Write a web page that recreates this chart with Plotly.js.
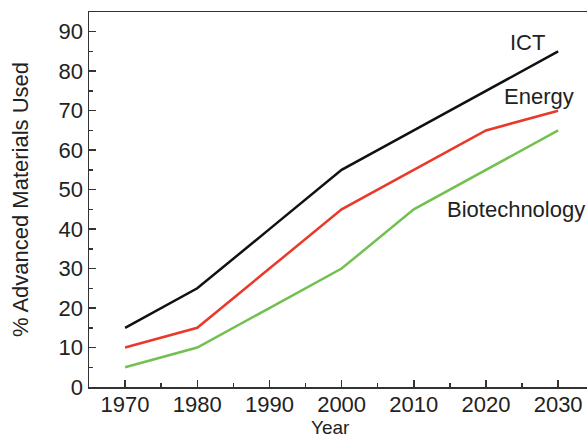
<!DOCTYPE html>
<html>
<head>
<meta charset="utf-8">
<script src="https://cdn.plot.ly/plotly-3.0.1.min.js"></script>
<style>html,body{margin:0;padding:0;background:#fff;}#chart{width:587px;height:439px;}</style>
</head>
<body>
<div id="chart"></div>
<script>
const years = [1970, 1980, 1990, 2000, 2010, 2020, 2030];
const ict = [15, 25, 40, 55, 65, 75, 85];
const energy = [10, 15, 30, 45, 55, 65, 70];
const biotech = [5, 10, 20, 30, 45, 55, 65];
const seriesNames = ["ICT", "Energy", "Biotechnology"];
const labelPos = [[2025.8, 87.2], [2027.4, 73.5], [2024.2, 44.9]];
const xTitle = "Year";
const yTitle = "% Advanced Materials Used";

const colors = ["#111111", "#e8392a", "#72c04f"];
const data = [ict, energy, biotech].map((v, i) => ({
  x: years, y: v, type: "scatter", mode: "lines", name: seriesNames[i],
  line: {color: colors[i], width: 2.5}
}));

const font = {family: "Liberation Sans, Arial, sans-serif", size: 22, color: "#222"};
const annotations = seriesNames.map((n, i) => ({
  x: labelPos[i][0], y: labelPos[i][1], xref: "x", yref: "y", text: n,
  showarrow: false, font: {size: 22, color: "#222"}
}));
annotations.push({
  x: 0.484, y: -0.1385, xref: "paper", yref: "paper", xanchor: "center", yanchor: "bottom",
  text: xTitle, showarrow: false, borderpad: 0, font: {size: 19, color: "#222"}
});
const layout = {
  width: 587, height: 439,
  margin: {l: 89, r: 0, t: 12, b: 52},
  paper_bgcolor: "#fff", plot_bgcolor: "#fff",
  showlegend: false,
  font: font,
  xaxis: {
    range: [1965, 2034], tickvals: years, ticks: "inside", ticklen: 7, tickwidth: 1.5,
    tickcolor: "#333", showline: true, linecolor: "#333", linewidth: 1.5, mirror: true,
    showgrid: false, zeroline: false, ticklabelstandoff: -3,
    minor: {dtick: 5, tick0: 1965, ticks: "inside", ticklen: 4, tickwidth: 1.5, tickcolor: "#333"}
  },
  yaxis: {
    range: [0, 95], dtick: 10, ticks: "inside", ticklen: 7, tickwidth: 1.5,
    tickcolor: "#333", showline: true, linecolor: "#333", linewidth: 1.5,
    showgrid: false, zeroline: false,
    minor: {dtick: 5, ticks: "inside", ticklen: 4, tickwidth: 1.5, tickcolor: "#333"},
    title: {text: yTitle, font: {size: 22}, standoff: 24}
  },
  annotations: annotations
};
Plotly.newPlot("chart", data, layout, {displayModeBar: false, staticPlot: true});
</script>
</body>
</html>
